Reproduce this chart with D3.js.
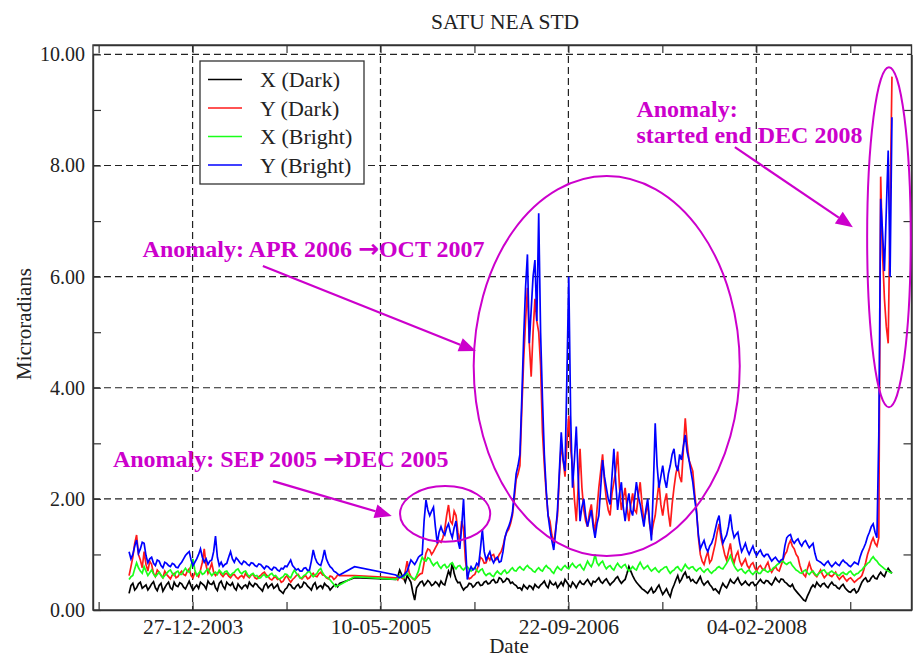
<!DOCTYPE html>
<html>
<head>
<meta charset="utf-8">
<script src="https://cdn.jsdelivr.net/npm/d3@7"></script>
<style>
  body { margin: 0; background: #fff; }
  svg { display: block; }
  text { font-family: "Liberation Serif", "DejaVu Serif", serif; }
</style>
</head>
<body>
<svg id="chart" width="913" height="659"></svg>
<script>
// ---- data: pointing STD (microradians), one sample every 5 days; null = no data ----
const firstSample = "2003-07-11";
const sampleStepDays = 5;

const xDark = [
  0.30,0.44,0.48,0.36,0.40,0.47,0.50,0.39,0.42,0.45,0.36,0.41,0.47,0.51,0.40,0.35,0.44,0.48,0.34,0.40,
  0.46,0.50,0.40,0.37,0.50,0.44,0.42,0.49,0.47,0.41,0.38,0.45,0.52,0.43,0.36,0.41,0.45,0.39,0.50,0.47,
  0.44,0.38,0.52,0.47,0.46,0.51,0.40,0.35,0.48,0.52,0.43,0.38,0.50,0.46,0.44,0.49,0.40,0.36,0.47,0.42,
  0.38,0.43,0.45,0.40,0.50,0.45,0.42,0.48,0.46,0.41,0.38,0.34,0.44,0.48,0.40,0.44,0.47,0.39,0.42,0.46,
  0.36,0.33,0.30,0.37,0.40,0.47,0.45,0.40,0.38,0.43,0.46,0.40,0.42,0.50,0.48,0.43,0.40,0.36,0.45,0.49,
  0.38,0.42,0.44,0.39,0.48,0.44,0.42,0.36,0.40,0.44,0.46,0.42,0.48,null,null,null,null,null,null,null,
  0.58,null,null,null,null,null,null,null,null,null,null,null,null,null,null,null,null,null,null,null,
  null,null,0.55,0.60,0.72,0.64,0.58,0.50,0.62,0.56,0.50,0.32,0.18,0.40,0.45,0.50,0.52,0.44,0.48,0.53,
  0.50,0.44,0.46,0.51,0.48,0.43,0.52,0.47,0.45,0.58,0.70,0.62,0.85,0.66,0.55,0.49,0.50,0.42,0.36,0.40,
  0.42,0.48,0.47,0.41,0.44,0.49,0.50,0.44,0.45,0.50,0.52,0.47,0.48,0.53,0.55,0.49,0.50,0.58,0.56,0.50,
  0.52,0.57,0.55,0.48,0.50,0.46,0.44,0.39,0.40,0.36,0.45,0.41,0.38,0.44,0.42,0.37,0.46,0.42,0.40,0.45,
  0.48,0.52,0.44,0.40,0.52,0.47,0.45,0.49,0.40,0.45,0.50,0.44,0.55,0.50,0.45,0.41,0.50,0.46,0.40,0.47,
  0.52,0.47,0.46,0.51,0.55,0.49,0.44,0.52,0.50,0.54,0.58,0.51,0.48,0.53,0.56,0.50,0.45,0.49,0.52,0.57,
  0.60,0.53,0.48,0.52,0.55,0.66,0.78,0.70,0.62,0.55,0.50,0.46,0.42,0.38,0.36,0.33,0.30,0.35,0.40,0.31,
  0.34,0.40,0.45,0.36,0.28,0.33,0.38,0.30,0.24,0.37,0.45,0.54,0.62,0.50,0.55,0.63,0.68,0.58,0.60,0.52,
  0.55,0.50,0.48,0.54,0.60,0.50,0.45,0.49,0.52,0.46,0.42,0.36,0.38,0.34,0.30,0.40,0.48,0.43,0.40,0.47,
  0.55,0.50,0.48,0.53,0.58,0.50,0.45,0.48,0.52,0.47,0.44,0.49,0.50,0.44,0.46,0.51,0.55,0.50,0.48,0.53,
  0.52,0.48,0.45,0.51,0.58,0.53,0.50,0.56,0.55,0.50,0.48,0.44,0.42,0.46,0.38,0.34,0.30,0.26,0.22,0.18,
  0.16,0.25,0.32,0.40,0.45,0.41,0.50,0.45,0.42,0.47,0.48,0.43,0.40,0.46,0.50,0.45,0.44,0.40,0.38,0.43,
  0.46,0.40,0.36,0.33,0.32,0.36,0.38,0.31,0.34,0.42,0.50,0.55,0.58,0.51,0.52,0.58,0.62,0.57,0.56,0.63,
  0.68,0.63,0.60,0.69,0.75,0.70,0.66
];

const yDark = [
  0.62,0.78,0.95,1.20,1.35,1.00,0.90,0.76,1.05,0.82,0.70,0.88,0.82,0.66,0.60,0.72,0.68,0.62,0.58,0.70,
  0.64,0.60,0.56,0.63,0.66,0.58,0.60,0.66,0.70,0.64,0.62,0.70,0.74,0.62,0.58,0.67,0.64,0.60,0.72,0.86,
  1.10,0.80,0.66,0.74,0.84,0.68,0.62,0.66,0.70,0.64,0.60,0.65,0.66,0.61,0.58,0.63,0.64,0.59,0.56,0.60,
  0.62,0.58,0.66,0.61,0.58,0.63,0.64,0.58,0.56,0.60,0.62,0.66,0.68,0.63,0.60,0.56,0.54,0.58,0.60,0.55,
  0.56,0.50,0.52,0.58,0.62,0.55,0.50,0.55,0.58,0.62,0.64,0.58,0.56,0.60,0.62,0.56,0.58,0.63,0.66,0.61,
  0.60,0.65,0.68,0.63,0.62,0.58,0.56,0.61,0.60,0.55,0.58,0.63,0.62,null,null,null,null,null,null,null,
  0.62,null,null,null,null,null,null,null,null,null,null,null,null,null,null,null,null,null,null,null,
  null,null,0.58,0.54,0.62,0.58,0.56,0.70,0.88,0.68,0.60,0.56,0.54,0.58,0.62,0.65,0.66,0.85,1.02,1.10,
  1.08,1.00,1.05,1.12,1.18,1.25,1.22,1.30,1.45,1.70,1.89,1.60,1.55,1.78,1.70,1.40,1.22,1.60,1.45,0.90,
  0.62,0.56,0.58,0.62,0.64,0.72,0.80,0.95,0.92,0.84,0.85,0.96,0.90,0.98,1.00,0.90,0.92,1.00,1.05,1.15,
  1.30,1.40,1.45,1.55,1.70,2.00,2.35,2.45,2.60,3.60,4.50,5.20,5.80,4.80,4.20,5.00,5.60,5.20,5.00,4.40,
  3.20,2.60,2.10,1.70,1.60,1.35,1.20,1.45,1.70,2.40,3.00,2.70,2.40,3.00,3.50,2.90,2.60,2.00,1.60,2.20,
  2.90,2.20,1.80,1.60,1.50,1.75,1.90,1.60,1.40,1.80,2.20,2.50,2.80,2.30,2.00,1.80,1.70,2.10,2.30,2.50,
  2.85,2.20,1.80,2.00,2.20,1.85,1.60,1.90,2.10,1.80,1.75,2.05,2.30,1.90,1.60,1.75,1.90,1.55,1.35,1.55,
  1.70,2.00,2.30,1.90,1.70,1.95,2.10,1.75,1.50,1.90,2.20,2.45,2.60,2.40,2.30,2.90,3.45,3.00,2.70,2.60,
  2.50,2.10,1.80,1.30,1.00,0.88,0.82,0.95,1.05,0.85,0.90,1.05,1.20,1.40,1.55,1.30,1.15,1.00,0.90,1.05,
  1.20,0.95,0.85,0.98,1.05,0.88,0.80,0.86,0.92,0.80,0.75,0.82,0.85,0.76,0.70,0.77,0.80,0.74,0.72,0.80,
  0.86,0.74,0.68,0.74,0.78,0.72,0.70,0.80,0.90,1.00,1.05,1.18,1.25,1.15,1.10,1.00,0.95,0.80,0.70,0.64,
  0.60,0.74,0.85,0.74,0.68,0.63,0.60,0.66,0.72,0.64,0.58,0.62,0.66,0.62,0.60,0.64,0.68,0.60,0.55,0.59,
  0.62,0.56,0.52,0.56,0.58,0.54,0.50,0.53,0.56,0.58,0.62,0.72,0.85,1.00,1.10,1.22,1.30,1.20,1.15,1.30,
  7.80,6.40,5.60,5.10,4.80,7.20,9.60
];

const xBright = [
  0.55,0.60,0.62,0.74,0.85,0.76,0.70,0.66,0.78,0.70,0.62,0.67,0.72,0.65,0.60,0.64,0.68,0.63,0.58,0.62,
  0.66,0.70,0.72,0.66,0.62,0.68,0.70,0.64,0.64,0.70,0.75,0.70,0.68,0.80,0.92,0.72,0.62,0.66,0.70,0.64,
  0.66,0.71,0.74,0.67,0.62,0.66,0.68,0.64,0.72,0.68,0.64,0.69,0.70,0.65,0.62,0.66,0.68,0.72,0.74,0.68,
  0.65,0.69,0.70,0.64,0.60,0.64,0.66,0.61,0.62,0.57,0.58,0.62,0.64,0.59,0.60,0.64,0.66,0.61,0.62,0.58,
  0.55,0.58,0.60,0.65,0.64,0.60,0.58,0.66,0.72,0.66,0.62,0.58,0.58,0.62,0.64,0.68,0.70,0.64,0.60,0.63,
  0.66,0.72,0.75,0.67,0.62,0.59,0.58,0.54,0.50,0.46,0.42,0.44,0.45,null,null,null,null,null,null,null,
  0.60,null,null,null,null,null,null,null,null,null,null,null,null,null,null,null,null,null,null,null,
  null,null,0.55,0.58,0.62,0.60,0.58,0.63,0.66,0.62,0.60,0.57,0.55,0.62,0.70,0.84,0.95,0.90,0.88,0.94,
  0.92,0.85,0.80,0.84,0.86,0.79,0.75,0.80,0.82,0.76,0.78,0.83,0.85,0.78,0.74,0.79,0.80,0.75,0.72,0.76,
  0.78,0.73,0.70,0.74,0.76,0.71,0.68,0.72,0.74,0.66,0.62,0.65,0.66,0.62,0.60,0.66,0.70,0.66,0.64,0.69,
  0.72,0.66,0.68,0.73,0.76,0.71,0.70,0.75,0.78,0.74,0.72,0.77,0.80,0.76,0.74,0.70,0.68,0.73,0.76,0.72,
  0.70,0.76,0.80,0.76,0.74,0.69,0.66,0.73,0.78,0.74,0.72,0.77,0.80,0.76,0.74,0.80,0.84,0.79,0.76,0.80,
  0.82,0.76,0.72,0.80,0.88,0.82,0.78,0.86,1.00,0.85,0.80,0.85,0.88,0.80,0.74,0.78,0.80,0.75,0.72,0.79,
  0.84,0.79,0.76,0.80,0.82,0.75,0.70,0.74,0.78,0.74,0.72,0.80,0.86,0.79,0.74,0.77,0.80,0.74,0.70,0.73,
  0.76,0.71,0.68,0.72,0.74,0.77,0.78,0.71,0.66,0.70,0.72,0.76,0.78,0.73,0.70,0.76,0.82,0.77,0.74,0.77,
  0.78,0.73,0.70,0.74,0.76,0.71,0.68,0.72,0.74,0.69,0.66,0.70,0.72,0.76,0.78,0.75,0.74,0.79,0.84,0.90,
  0.98,0.88,0.80,0.74,0.70,0.73,0.74,0.69,0.66,0.70,0.72,0.67,0.64,0.68,0.70,0.66,0.66,0.71,0.74,0.70,
  0.68,0.71,0.72,0.76,0.78,0.82,0.84,0.87,0.88,0.84,0.82,0.85,0.86,0.80,0.76,0.72,0.70,0.67,0.66,0.70,
  0.72,0.67,0.64,0.68,0.70,0.65,0.62,0.66,0.68,0.71,0.72,0.67,0.64,0.68,0.70,0.67,0.66,0.63,0.62,0.66,
  0.68,0.65,0.64,0.68,0.70,0.65,0.62,0.65,0.66,0.70,0.72,0.77,0.80,0.84,0.86,0.92,0.96,0.91,0.88,0.83,
  0.80,0.77,0.74,0.72,0.70,0.68,0.66
];

const yBright = [
  1.05,0.92,1.00,1.15,1.26,1.02,1.10,1.22,1.20,0.98,0.85,0.92,0.95,0.84,0.80,0.90,0.88,0.80,0.76,0.86,
  0.84,0.80,0.78,0.84,0.82,0.77,0.76,0.82,0.86,0.92,0.98,1.02,1.05,0.90,0.80,0.86,0.92,1.00,1.10,0.95,
  0.86,0.92,0.82,0.88,0.90,1.05,1.33,0.95,0.80,0.86,0.78,0.82,0.84,0.95,1.05,0.92,0.86,0.94,0.90,0.85,
  0.82,0.88,0.86,0.82,0.80,0.85,0.84,0.80,0.78,0.83,0.82,0.78,0.74,0.79,0.78,0.74,0.72,0.77,0.76,0.72,
  0.70,0.75,0.74,0.79,0.78,0.84,0.90,0.80,0.76,0.72,0.74,0.70,0.70,0.75,0.76,0.71,0.72,0.88,1.08,0.94,
  0.86,0.82,0.80,0.92,1.08,0.92,0.84,0.78,0.75,0.70,0.68,0.65,0.63,null,null,null,null,null,null,null,
  0.78,null,null,null,null,null,null,null,null,null,null,null,null,null,null,null,null,null,null,null,
  null,null,0.63,0.60,0.58,0.60,0.62,0.66,0.70,0.80,0.90,0.86,0.82,0.88,0.95,0.98,1.00,1.60,1.98,1.80,
  1.70,1.78,1.85,1.50,1.20,1.40,1.50,1.40,1.35,1.48,1.55,1.40,1.30,1.48,1.60,1.25,1.10,1.50,2.00,1.20,
  0.55,0.70,0.78,0.72,0.75,0.84,0.80,1.10,1.45,1.05,0.90,0.98,1.05,0.92,0.85,0.92,0.95,0.86,0.88,1.05,
  1.30,1.42,1.50,1.60,1.75,2.10,2.45,2.60,2.80,3.80,4.90,5.80,6.40,4.80,5.40,6.00,6.30,5.20,7.14,5.00,
  3.80,2.80,2.16,1.70,1.45,1.25,1.08,1.40,1.80,2.50,3.20,2.70,2.50,4.20,6.00,3.50,2.20,2.70,3.30,2.40,
  1.60,1.85,2.00,1.70,1.50,1.65,1.80,1.50,1.30,1.55,1.70,2.20,2.70,2.40,2.20,2.00,1.90,2.40,2.90,2.30,
  1.80,2.10,2.30,1.85,1.60,1.90,2.10,1.80,1.70,2.00,2.30,2.05,1.90,1.70,1.50,1.80,2.00,1.60,1.25,2.20,
  3.36,2.60,2.20,2.40,2.60,2.35,2.20,2.45,2.60,2.80,2.90,2.60,2.50,2.80,2.70,2.95,3.15,2.85,2.70,2.50,
  2.30,2.00,1.75,1.35,1.10,1.18,1.25,1.12,1.05,1.15,1.20,1.30,1.45,1.60,1.70,1.40,1.20,1.28,1.35,1.50,
  1.72,1.45,1.30,1.36,1.40,1.20,1.05,1.12,1.20,1.08,1.00,1.08,1.15,1.04,0.98,1.04,1.08,1.00,0.96,1.00,
  1.00,0.94,0.88,0.92,0.95,0.90,0.86,0.90,0.92,1.15,1.30,1.34,1.36,1.25,1.20,1.25,1.28,1.20,1.15,1.22,
  1.25,1.18,1.12,1.16,1.20,1.02,0.90,0.88,0.86,0.83,0.80,0.85,0.88,0.82,0.78,0.82,0.86,0.82,0.80,0.86,
  0.90,0.86,0.84,0.80,0.78,0.82,0.86,0.84,0.82,0.95,1.05,1.12,1.20,1.32,1.40,1.50,1.55,1.40,1.30,3.15,
  7.40,6.80,6.10,7.20,8.27,6.00,8.87
];

const seriesNames = ["X (Dark)", "Y (Dark)", "X (Bright)", "Y (Bright)"];
const seriesColors = ["#000000", "#ff1a1a", "#1aff1a", "#0000ff"];

// axis ticks
const majorDates = ["2003-12-27", "2005-05-10", "2006-09-22", "2008-02-04"];
const minorDates = ["2003-04-21", "2004-09-02", "2006-01-15", "2007-05-30", "2008-10-11"];
const yMajor = [0, 2, 4, 6, 8, 10];
const yMinor = [1, 3, 5, 7, 9];

// annotations, placed in data space
const ellipses = [
  { center: "2005-10-29", value: 1.73, rxDays: 120, ryValue: 0.50 },
  { center: "2007-01-02", value: 4.39, rxDays: 354, ryValue: 3.42 },
  { center: "2009-01-22", value: 6.71, rxDays: 58,  ryValue: 3.06 }
];
const arrows = [
  { from: ["2004-07-28", 2.32], to: ["2005-06-09", 1.69] },
  { from: ["2004-07-01", 6.19], to: ["2006-01-19", 4.66] },
  { from: ["2007-12-09", 8.33], to: ["2008-10-18", 6.89] }
];
const notes = [
  { at: ["2003-05-29", 2.57], lines: [["Anomaly: SEP 2005 ", "\u2192", "DEC 2005"]] },
  { at: ["2003-08-16", 6.36], lines: [["Anomaly: APR 2006 ", "\u2192", "OCT 2007"]] },
  { at: ["2007-03-22", 8.88], lines: [["Anomaly:"], ["started end DEC 2008"]] }
];

// ---- drawing ----
const parse = d3.utcParse("%Y-%m-%d");
const fmtDate = d3.utcFormat("%d-%m-%Y");
const start = parse(firstSample);

const frame = { left: 93, right: 911.5, top: 45, bottom: 610 };
const x = d3.scaleUtc()
  .domain([parse("2003-04-06"), parse("2009-03-23")])
  .range([frame.left, frame.right]);
const y = d3.scaleLinear().domain([0, 10]).range([frame.bottom, 54.4]);

const svg = d3.select("#chart");
const annot = "#cc00cc";
const axisColor = "#333";

// clip for the series
svg.append("defs").append("clipPath").attr("id", "plot-clip")
  .append("rect")
  .attr("x", frame.left).attr("y", frame.top)
  .attr("width", frame.right - frame.left).attr("height", frame.bottom - frame.top);

// dashed grid
const grid = svg.append("g").attr("stroke", "#222").attr("stroke-width", 1.2)
  .attr("stroke-dasharray", "7,4");
grid.selectAll("line.h").data(yMajor.filter(v => v > 0)).join("line")
  .attr("class", "h")
  .attr("x1", frame.left).attr("x2", frame.right)
  .attr("y1", d => y(d)).attr("y2", d => y(d));
grid.selectAll("line.v").data(majorDates.map(parse)).join("line")
  .attr("class", "v")
  .attr("x1", d => x(d)).attr("x2", d => x(d))
  .attr("y1", frame.top).attr("y2", frame.bottom);

// series (gaps in the record are bridged by a straight segment)
const allSeries = [xDark, yDark, xBright, yBright];
const line = d3.line().x(d => x(d.date)).y(d => y(d.v));
const plot = svg.append("g").attr("clip-path", "url(#plot-clip)");
allSeries.forEach((vals, k) => {
  const pts = vals
    .map((v, i) => ({ date: d3.utcDay.offset(start, i * sampleStepDays), v }))
    .filter(d => d.v !== null);
  plot.append("path").datum(pts)
    .attr("fill", "none")
    .attr("stroke", seriesColors[k])
    .attr("stroke-width", 1.7)
    .attr("d", line);
});

// axes
const allDates = majorDates.concat(minorDates).map(parse);
const majorSet = new Set(majorDates);
const isoDay = d3.utcFormat("%Y-%m-%d");
const axisBottomG = svg.append("g").attr("transform", `translate(0,${frame.bottom})`)
  .call(d3.axisBottom(x).tickValues(allDates).tickSizeInner(-8).tickSizeOuter(0).tickPadding(9)
    .tickFormat(d => majorSet.has(isoDay(d)) ? fmtDate(d) : ""));
const axisTopG = svg.append("g").attr("transform", `translate(0,${frame.top})`)
  .call(d3.axisTop(x).tickValues(allDates).tickSizeInner(-8).tickSizeOuter(0).tickFormat(""));
const axisLeftG = svg.append("g").attr("transform", `translate(${frame.left},0)`)
  .call(d3.axisLeft(y).tickValues(yMajor.concat(yMinor)).tickSizeInner(-8).tickSizeOuter(0).tickPadding(8)
    .tickFormat(d => d % 2 === 0 ? d3.format(".2f")(d) : ""));
const axisRightG = svg.append("g").attr("transform", `translate(${frame.right},0)`)
  .call(d3.axisRight(y).tickValues(yMinor).tickSizeInner(-8).tickSizeOuter(0).tickFormat(""));

[axisBottomG, axisTopG, axisLeftG, axisRightG].forEach(g => {
  g.select(".domain").attr("stroke", axisColor).attr("stroke-width", 1.4);
  g.selectAll(".tick line").attr("stroke", axisColor).attr("stroke-width", 1.2);
  g.selectAll(".tick text").attr("fill", "#222").style("font-size", "20px")
    .style("font-family", '"Liberation Serif", serif');
});
axisBottomG.selectAll(".tick text").style("font-size", "21.5px");
// plot frame
svg.append("rect")
  .attr("x", frame.left).attr("y", frame.top)
  .attr("width", frame.right - frame.left).attr("height", frame.bottom - frame.top)
  .attr("fill", "none").attr("stroke", axisColor).attr("stroke-width", 1.4);

// titles
svg.append("text").attr("x", 505).attr("y", 29).attr("text-anchor", "middle")
  .style("font-size", "21.5px").attr("fill", "#222").text("SATU NEA STD");
svg.append("text").attr("x", 509).attr("y", 653).attr("text-anchor", "middle")
  .style("font-size", "21px").attr("fill", "#222").text("Date");
svg.append("text").attr("transform", "translate(31,324) rotate(-90)").attr("text-anchor", "middle")
  .style("font-size", "21px").attr("fill", "#222").text("Microradians");

// legend
const legend = svg.append("g");
legend.append("rect").attr("x", 200).attr("y", 61).attr("width", 164).attr("height", 123)
  .attr("fill", "#fff").attr("stroke", axisColor).attr("stroke-width", 1.3);
seriesNames.forEach((name, k) => {
  const ly = 79.5 + k * 28.5;
  legend.append("line").attr("x1", 208).attr("x2", 242).attr("y1", ly).attr("y2", ly)
    .attr("stroke", seriesColors[k]).attr("stroke-width", 1.5);
  legend.append("text").attr("x", 260).attr("y", ly + 7.5)
    .style("font-size", "22px").attr("fill", "#222").text(name);
});

// annotations
const ann = svg.append("g");
ellipses.forEach(e => {
  const c = parse(e.center);
  ann.append("ellipse")
    .attr("cx", x(c)).attr("cy", y(e.value))
    .attr("rx", x(d3.utcDay.offset(c, e.rxDays)) - x(c))
    .attr("ry", y(0) - y(e.ryValue))
    .attr("fill", "none").attr("stroke", annot).attr("stroke-width", 2);
});
arrows.forEach(a => {
  const x1 = x(parse(a.from[0])), y1 = y(a.from[1]);
  const x2 = x(parse(a.to[0])), y2 = y(a.to[1]);
  const ang = Math.atan2(y2 - y1, x2 - x1);
  const headLen = 17, headHalf = 7;
  const bx = x2 - headLen * Math.cos(ang), by = y2 - headLen * Math.sin(ang);
  ann.append("line").attr("x1", x1).attr("y1", y1).attr("x2", bx).attr("y2", by)
    .attr("stroke", annot).attr("stroke-width", 2.2);
  const px = -Math.sin(ang) * headHalf, py = Math.cos(ang) * headHalf;
  ann.append("path")
    .attr("d", `M${x2},${y2}L${bx + px},${by + py}L${bx - px},${by - py}Z`)
    .attr("fill", annot);
});
notes.forEach(n => {
  const nx = x(parse(n.at[0]));
  const t = ann.append("text")
    .attr("x", nx).attr("y", y(n.at[1]))
    .attr("fill", annot).style("font-size", "24px").style("font-weight", "bold");
  n.lines.forEach((parts, i) => {
    parts.forEach((s, j) => {
      const sp = t.append("tspan").text(s);
      if (j === 0) sp.attr("x", nx).attr("dy", i === 0 ? 0 : 26);
      // the arrow glyph is set in a sans face for a heavier shape
      if (s === "\u2192") sp.style("font-family", '"DejaVu Sans", sans-serif').style("font-size", "25px");
    });
  });
});
</script>
</body>
</html>
